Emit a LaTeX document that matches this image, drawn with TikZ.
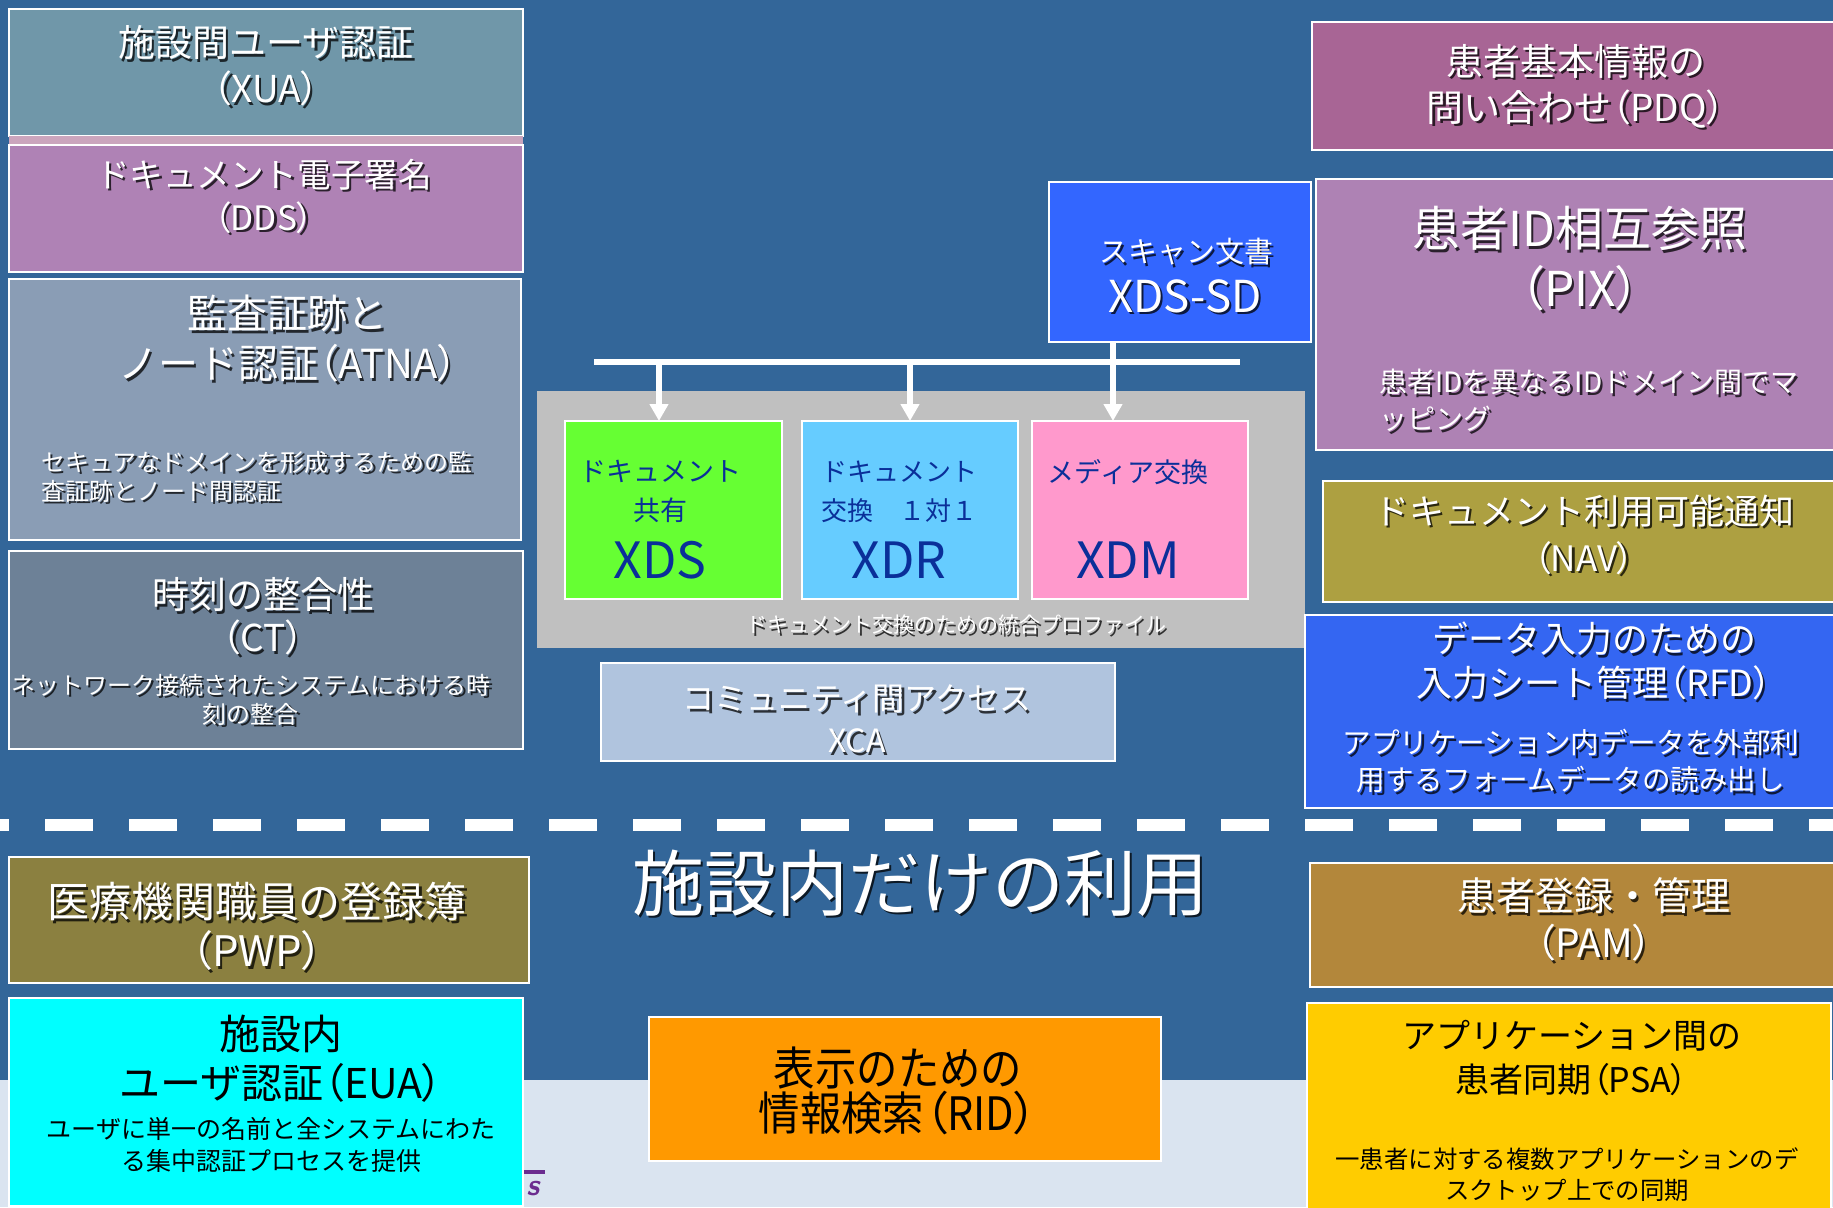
\documentclass[tikz,border=0pt]{standalone}
\usepackage{fontspec}
\setmainfont{Noto Sans CJK JP}
\newfontfamily\jpcond{Noto Sans CJK JP}[FakeStretch=0.9]
\newfontfamily\jppalt{Noto Sans CJK JP}[RawFeature=+palt]
\usetikzlibrary{arrows.meta,fit}

\definecolor{cbg}{HTML}{336699}
\definecolor{cbglight}{HTML}{DAE4F0}
\definecolor{cxua}{HTML}{7097A9}
\definecolor{cstrip}{HTML}{CBA5BD}
\definecolor{cdds}{HTML}{AF82B5}
\definecolor{catna}{HTML}{8A9DB5}
\definecolor{cct}{HTML}{6D8197}
\definecolor{cpwp}{HTML}{8B8040}
\definecolor{ceua}{HTML}{00FFFF}
\definecolor{cpdq}{HTML}{A86595}
\definecolor{cpix}{HTML}{AE82B4}
\definecolor{cnav}{HTML}{ADA041}
\definecolor{crfd}{HTML}{3466F2}
\definecolor{cpam}{HTML}{B3873B}
\definecolor{cpsa}{HTML}{FFCC00}
\definecolor{csd}{HTML}{3366FF}
\definecolor{cgray}{HTML}{C0C0C0}
\definecolor{cxds}{HTML}{66FF33}
\definecolor{cxdr}{HTML}{66CCFF}
\definecolor{cxdm}{HTML}{FF99CC}
\definecolor{cxca}{HTML}{B0C4DE}
\definecolor{crid}{HTML}{FF9900}
\definecolor{cdblue}{HTML}{0A2F99}
\definecolor{clogo}{HTML}{6B2C8F}

\newcommand\fsz[2]{\fontsize{#1}{#2}\selectfont}
\newcommand\lpar{{\jppalt （}}
\newcommand\rpar{{\jppalt ）}}
% name, position, style, text  (white text with drop shadow)
\newcommand\shtext[4]{%
  \node[#3, text=black, text opacity=.75] at ([xshift=1.2pt,yshift=-1.2pt]#2) {#4};
  \node[#3] (#1) at (#2) {#4};}
% name, colour, corner1, corner2
\newcommand\bx[4]{\node[boxst, fill=#2, fit={(#3) (#4)}] (#1) {};}

\tikzset{
  boxst/.style={draw=white, line width=0.8pt, inner sep=0pt, outer sep=0pt},
  wt/.style={text=white, align=center, inner sep=0pt},
  bt/.style={text=black, align=center, inner sep=0pt},
  dt/.style={text=cdblue, align=center, inner sep=0pt},
  arr/.style={draw=white, line width=3pt, -{Triangle[width=9pt,length=8.5pt]}},
  busst/.style={draw=white, line width=3pt},
  dashst/.style={draw=white, line width=6pt, dash pattern=on 24pt off 18pt, dash phase=19.5pt},
}

\begin{document}
\begin{tikzpicture}[x=0.5pt,y=-0.5pt]
\useasboundingbox (0,0) rectangle (1833,1207);
% background
\fill[cbg] (0,0) rectangle (1833,1080);
\fill[cbglight] (0,1080) rectangle (1833,1207);

% logo fragment
\node[text=clogo, inner sep=0pt, font=\fsz{15}{15}\sffamily\bfseries\itshape] (logo) at (533,1189) {s};
\coordinate (lgA) at (523,1172);
\coordinate (lgB) at (545,1172);
\draw[clogo, line width=1.6pt] (lgA) -- (lgB);

% dashed separator
\coordinate (dl) at (0,825);
\coordinate (dr) at (1840,825);
\draw[dashst] (dl) -- (dr);

% ---------- left column ----------
\bx{xua}{cxua}{9,9}{523,136}
\fill[cstrip] (9,136) rectangle (523,144);
\bx{dds}{cdds}{9,145}{523,272}
\bx{atna}{catna}{9,279}{521,540}
\bx{ct}{cct}{9,551}{523,749}
\bx{pwp}{cpwp}{9,857}{529,983}
\bx{eua}{ceua}{9,998}{523,1206}

\shtext{xuaT}{266,66}{wt, font=\fsz{18.5}{23}}{施設間ユーザ認証\\\lpar XUA\rpar}
\shtext{ddsT}{264,196.5}{wt, font=\fsz{16.8}{21.5}}{ドキュメント電子署名\\\lpar DDS\rpar}
\shtext{atnaT}{288,339}{wt, font=\fsz{20}{25}}{監査証跡と\\ノード認証\lpar ATNA\rpar}
\shtext{atnaD}{41,476.5}{wt, anchor=west, align=left, font=\fsz{12}{14.5}}{セキュアなドメインを形成するための監\\査証跡とノード間認証}
\shtext{ctT}{263,616.5}{wt, font=\fsz{18.5}{21.5}}{時刻の整合性\\\lpar CT\rpar}
\shtext{ctD}{251,699.5}{wt, font=\fsz{12}{14.5}}{ネットワーク接続されたシステムにおける時\\刻の整合}
\shtext{pwpT}{257,926.5}{wt, font=\fsz{21}{24.5}}{医療機関職員の登録簿\\\lpar PWP\rpar}
\node[bt, font=\fsz{20.5}{24.5}] (euaT) at (281,1058.5) {施設内\\ユーザ認証\lpar EUA\rpar};
\node[bt, font=\fsz{12.5}{16}] (euaD) at (271,1145) {ユーザに単一の名前と全システムにわた\\る集中認証プロセスを提供};

% ---------- middle ----------
\bx{sd}{csd}{1049,182}{1311,342}
\shtext{sdA}{1186,252}{wt, font=\fsz{14.5}{14.5}}{スキャン文書}
\shtext{sdB}{1185,296}{wt, font=\fsz{22}{22}}{XDS-SD}

\fill[cgray] (537,391) rectangle (1305,648);
\node[inner sep=0pt, fit={(537,391) (1305,648)}] (grp) {};
\bx{xds}{cxds}{565,421}{782,599}
\bx{xdr}{cxdr}{802,421}{1018,599}
\bx{xdm}{cxdm}{1032,421}{1248,599}

\node[dt, font=\fsz{13.5}{19.5}] (xdsA) at (660,491.5) {ドキュメント\\共有};
\node[dt, font=\fsz{25}{25}] (xdsB) at (660,560) {XDS};
\node[dt, anchor=west, align=left, font=\fsz{13}{19.5}] (xdrA) at (821,491.5) {ドキュメント\\交換　１対１};
\node[dt, font=\fsz{25}{25}] (xdrB) at (899,560) {XDR};
\node[dt, font=\fsz{13.5}{13.5}] (xdmA) at (1128,472) {メディア交換};
\node[dt, font=\fsz{25}{25}] (xdmB) at (1128,560) {XDM};
\shtext{grpT}{956,625}{wt, font=\fsz{10.5}{10.5}}{ドキュメント交換のための統合プロファイル}

% bus and arrows
\coordinate (busL) at (594,362);
\coordinate (busR) at (1240,362);
\coordinate (j1) at (659,362);
\coordinate (j2) at (910,362);
\coordinate (j3) at (1113,362);
\draw[busst] (busL) -- (busR);
\draw[arr] (j1) -- (j1 |- xds.north);
\draw[arr] (j2) -- (j2 |- xdr.north);
\draw[arr] (sd.south -| j3) -- (j3 |- xdm.north);

\bx{xca}{cxca}{601,663}{1115,761}
\shtext{xcaT}{857,719}{wt, font=\fsz{16}{21}}{コミュニティ間アクセス\\XCA}

\shtext{title}{920,883}{wt, font=\fsz{36}{36}}{施設内だけの利用}

\bx{rid}{crid}{649,1017}{1161,1161}
\node[bt, font=\jpcond\fsz{23}{22.5}] (ridT) at (898,1090.5) {表示のための\\情報検索\lpar RID\rpar};

% ---------- right column ----------
\bx{pdq}{cpdq}{1312,22}{1838,150}
\bx{pix}{cpix}{1316,179}{1838,450}
\bx{nav}{cnav}{1323,481}{1838,602}
\bx{rfd}{crfd}{1305,615}{1838,808}
\bx{pam}{cpam}{1310,863}{1838,987}
\bx{psa}{cpsa}{1307,1003}{1831,1212}

\shtext{pdqT}{1576,86}{wt, font=\fsz{18.5}{23}}{患者基本情報の\\問い合わせ\lpar PDQ\rpar}
\shtext{pixT}{1580,259}{wt, font=\fsz{24}{30}}{患者ID相互参照\\\lpar PIX\rpar}
\shtext{pixD}{1379,400.5}{wt, anchor=west, align=left, font=\fsz{14}{18.5}}{患者IDを異なるIDドメイン間でマ\\ッピング}
\shtext{navT}{1584,534.5}{wt, font=\fsz{17.5}{23.5}}{ドキュメント利用可能通知\\\lpar NAV\rpar}
\shtext{rfdT}{1594,661}{wt, font=\fsz{18}{22}}{データ入力のための\\入力シート管理\lpar RFD\rpar}
\shtext{rfdD}{1571,761.5}{wt, font=\fsz{14.3}{18.5}}{アプリケーション内データを外部利\\用するフォームデータの読み出し}
\shtext{pamT}{1594,919.5}{wt, font=\fsz{19.5}{23.5}}{患者登録・管理\\\lpar PAM\rpar}
\node[bt, font=\fsz{17}{22}] (psaT) at (1572,1058) {アプリケーション間の\\患者同期\lpar PSA\rpar};
\node[bt, font=\fsz{12.2}{15.5}] (psaD) at (1567,1174.5) {一患者に対する複数アプリケーションのデ\\スクトップ上での同期};
\end{tikzpicture}
\end{document}
